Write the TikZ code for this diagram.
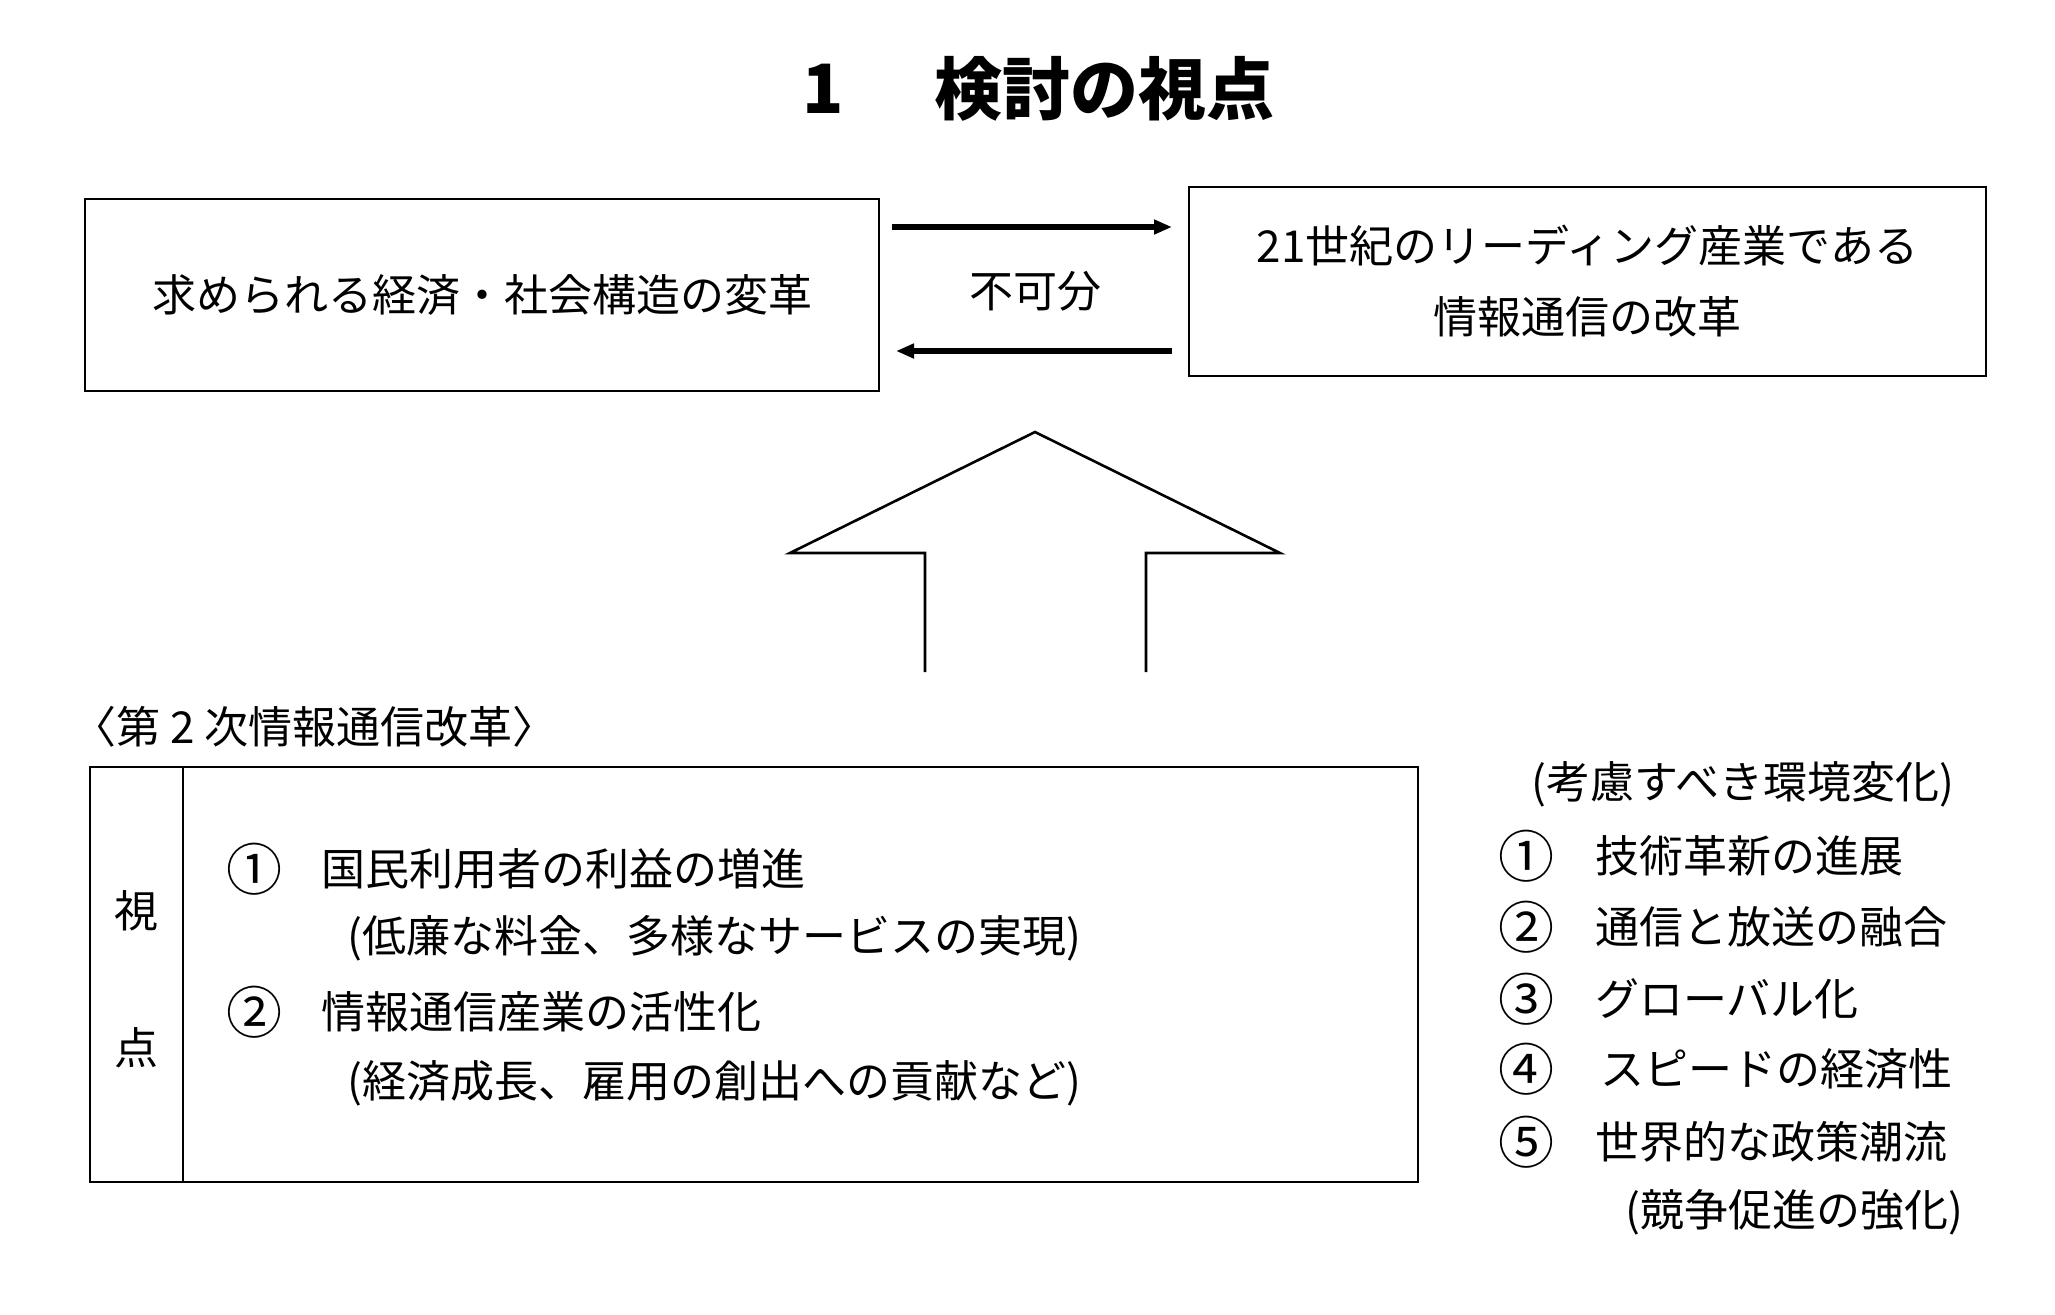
\documentclass[tikz,border=0pt]{standalone}
\usepackage{fontspec}
\setmainfont{Noto Sans CJK JP}
\usetikzlibrary{arrows.meta}
\begin{document}
\begin{tikzpicture}[x=0.5pt,y=-0.5pt,
  box/.style={draw,line width=1pt,inner sep=0},
  txt/.style={font=\fontsize{22pt}{26pt}\selectfont,inner sep=0},
  circ/.style={font=\fontsize{28pt}{30pt}\selectfont,inner sep=0},
  ttl/.style={font=\bfseries\fontsize{34pt}{40pt}\selectfont,inner sep=0},
  lbl/.style={txt,anchor=west},
  arr/.style={line width=3pt,-{Triangle[length=9pt,width=7pt]}},
  bigarr/.style={line width=1.3pt,line join=miter}]
\useasboundingbox (0,0) rectangle (2055,1314);
% title
\node[ttl] (t1) at (823,89) {1};
\node[ttl] (t2) at (1104,89) {検討の視点};
% top boxes
\node[box,txt,minimum width=397pt,minimum height=96pt] (L) at (482,295) {求められる経済・社会構造の変革};
\node[box,txt,font=\fontsize{22pt}{35.5pt}\selectfont,align=center,minimum width=398.5pt,minimum height=94.5pt] (R) at (1587.5,281.5) {21世紀のリーディング産業である\\情報通信の改革};
\node[txt] (fk) at (1035,291) {不可分};
\coordinate (u) at (0,227);
\coordinate (d) at (0,351);
\draw[arr] ([xshift=6pt]L.east |- u) -- ([xshift=-8pt]R.west |- u);
\draw[arr] ([xshift=-8pt]R.west |- d) -- ([xshift=8pt]L.east |- d);
% big hollow arrow
\draw[bigarr] (925,672) -- (925,553) -- (790,553) -- (1035,432) -- (1280,553) -- (1146,553) -- (1146,672);
% section label
\node[lbl] (sec) at (72,727) {〈第 2 次情報通信改革〉};
% bottom box
\node[box,minimum width=664pt,minimum height=207.5pt] (B) at (754,974.5) {};
\coordinate (dv) at (183,0);
\draw[line width=1pt] (B.north -| dv) -- (B.south -| dv);
\node[txt] (v1) at (136,911) {視};
\node[txt] (v2) at (136,1048) {点};
\node[circ] (n1) at (254,869) {①};
\node[lbl] (p1) at (321,869) {国民利用者の利益の増進};
\node[lbl] (p1s) at (347,938) {(低廉な料金、多様なサービスの実現)};
\node[circ] (n2) at (254,1012) {②};
\node[lbl] (p2) at (321,1012) {情報通信産業の活性化};
\node[lbl] (p2s) at (347,1083) {(経済成長、雇用の創出への貢献など)};
% right list
\node[lbl] (kh) at (1531,784) {(考慮すべき環境変化)};
\node[circ] (c1) at (1526,856) {①};
\node[lbl] (k1) at (1595,856) {技術革新の進展};
\node[circ] (c2) at (1526,927) {②};
\node[lbl] (k2) at (1595,927) {通信と放送の融合};
\node[circ] (c3) at (1526,999) {③};
\node[lbl] (k3) at (1595,999) {グローバル化};
\node[circ] (c4) at (1526,1069) {④};
\node[lbl] (k4) at (1600,1069) {スピードの経済性};
\node[circ] (c5) at (1526,1142) {⑤};
\node[lbl] (k5) at (1595,1142) {世界的な政策潮流};
\node[lbl] (k5s) at (1625,1212) {(競争促進の強化)};
\end{tikzpicture}
\end{document}
